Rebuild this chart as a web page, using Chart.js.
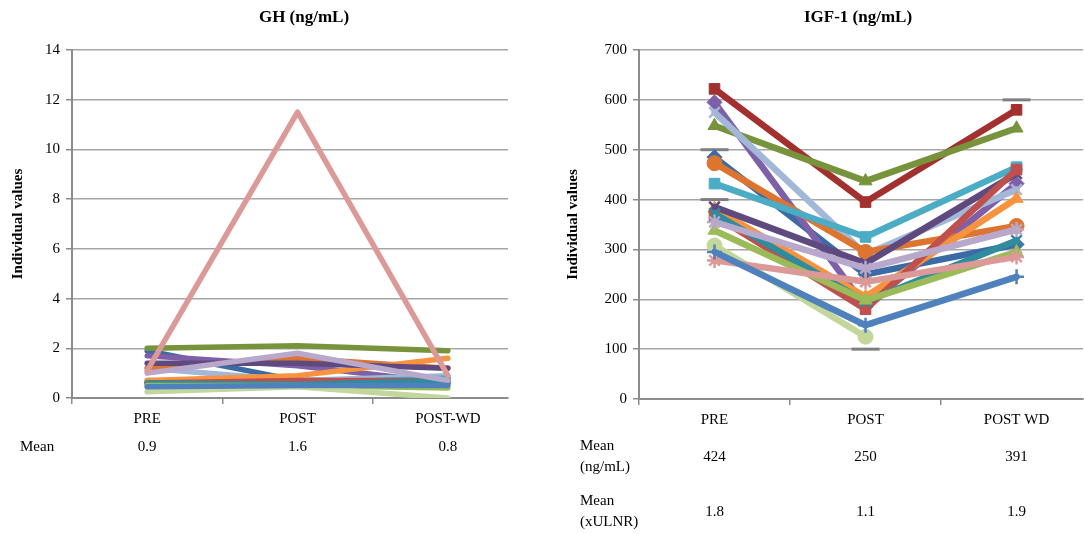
<!DOCTYPE html>
<html>
<head>
<meta charset="utf-8">
<script src="https://cdn.jsdelivr.net/npm/chart.js@4"></script>
<style>
  html, body { margin: 0; padding: 0; background: #fff; overflow: hidden; }
  #wrap { position: relative; width: 1084px; height: 534px; overflow: hidden; }
  canvas { position: absolute; top: 0; display: block; }
</style>
</head>
<body>
<div id="wrap">
  <canvas id="ghChart" width="540" height="534" style="left:0"></canvas>
  <canvas id="igfChart" width="544" height="534" style="left:540px"></canvas>
</div>
<script>
const ghCategories = ['PRE', 'POST', 'POST-WD'];
const igfCategories = ['PRE', 'POST', 'POST WD'];

// one colour / marker per patient, same order in both charts
const seriesColors = [
    '#3B6BA5', '#A2302E', '#77943D', '#7E5FA8', '#A3B8D9', '#DD7530', '#4BACC6', '#F7923E',
    '#5F4A80', '#C0504D', '#2E8C9E', '#9BBB59', '#B8A9CC', '#C3D69B', '#DB9997', '#4F81BD'
];
const seriesMarkers = [
    'rectRot', 'rect', 'triangle', 'rectRot', 'crossRot', 'circle', 'rect', 'triangle',
    'crossRot', 'rect', 'crossRot', 'triangle', 'star', 'circle', 'star', 'cross'
];

const ghValues = [
    [1.9, 0.7, 0.8], [0.6, 0.6, 0.6], [2.0, 2.1, 1.9], [1.7, 1.3, 0.6],
    [1.2, 0.7, 0.9], [1.2, 1.6, 1.2], [0.7, 0.6, 0.8], [0.7, 0.9, 1.6],
    [1.4, 1.4, 1.2], [0.6, 0.7, 0.7], [0.6, 0.55, 0.7], [0.5, 0.5, 0.4],
    [1.0, 1.8, 0.7], [0.25, 0.45, 0.0], [1.1, 11.5, 0.9], [0.45, 0.5, 0.5]
];
const igfValues = [
    [485, 250, 310], [622, 395, 580], [548, 437, 543], [595, 185, 432],
    [575, 290, 420], [473, 295, 347], [432, 325, 465], [382, 205, 402],
    [385, 272, 452], [368, 180, 460], [372, 195, 318], [338, 198, 295],
    [355, 262, 340], [308, 125, null], [278, 235, 285], [295, 148, 245]
];
// grey dash marks sitting on the IGF-1 gridlines
const igfDashX = [0, 0, 1, 2];
const igfDashY = [500, 400, 100, 600];

const ghMeans = ['0.9', '1.6', '0.8'];
const igfMeansNg = ['424', '250', '391'];
const igfMeansUlnr = ['1.8', '1.1', '1.9'];

const serif = 'Liberation Serif';

// text under the x axis (the little "Mean" table) and the chart title
const tablePlugin = {
    id: 'table',
    afterDraw(chart, args, opts) {
        const c = chart.ctx;
        const xs = chart.scales.x;
        const area = chart.chartArea;
        c.save();
        c.fillStyle = '#000';
        c.textBaseline = 'middle';
        c.font = 'bold 17px "' + serif + '"';
        c.textAlign = 'center';
        c.fillText(opts.title, (area.left + area.right) / 2 + opts.titleShift, 18);
        c.font = '15px "' + serif + '"';
        opts.rows.forEach(row => {
            c.textAlign = 'left';
            row.label.forEach((t, k) => {
                c.fillText(t, opts.labelX, row.y + (k - (row.label.length - 1) / 2) * 21);
            });
            c.textAlign = 'center';
            row.values.forEach((t, i) => {
                c.fillText(t, xs.getPixelForValue(i), row.y);
            });
        });
        c.restore();
    }
};

function makeLines(values, withMarkers, width) {
    return values.map((vals, i) => ({
        data: vals.map((v, j) => ({ x: j, y: v })),
        borderColor: seriesColors[i],
        backgroundColor: seriesColors[i],
        borderWidth: width,
        borderJoinStyle: 'round',
        borderCapStyle: 'round',
        pointStyle: seriesMarkers[i],
        pointRadius: withMarkers ? 7.5 : 0,
        pointBorderWidth: seriesMarkers[i].indexOf('cross') === 0 || seriesMarkers[i] === 'star' ? 2.5 : 1,
        pointBorderColor: seriesColors[i],
        pointBackgroundColor: seriesColors[i],
        order: values.length - i,
        showLine: true
    }));
}

function makeOptions(cfg) {
    return {
        responsive: false,
        animation: false,
        devicePixelRatio: 1,
        layout: { autoPadding: false, padding: { top: 50, right: cfg.padRight, left: 0, bottom: 0 } },
        plugins: {
            legend: { display: false },
            tooltip: { enabled: false },
            table: cfg.table
        },
        scales: {
            x: {
                type: 'linear',
                min: -0.5,
                max: cfg.xMax,
                afterBuildTicks: scale => {
                    const t = [];
                    cfg.categories.forEach((c, i) => { t.push({ value: i - 0.5 }); t.push({ value: i }); });
                    scale.ticks = t;
                },
                afterFit: scale => {
                    scale.height = cfg.xHeight;
                    scale.paddingLeft = 0;
                    scale.paddingRight = 0;
                },
                grid: {
                    drawOnChartArea: false,
                    tickLength: 6,
                    color: ctx => Number.isInteger(ctx.tick.value) ? 'rgba(0,0,0,0)' : '#8C8C8C',
                    lineWidth: 1.5
                },
                border: { color: '#8C8C8C', width: 2 },
                ticks: {
                    autoSkip: false,
                    maxRotation: 0,
                    padding: 6,
                    color: '#000',
                    font: { family: serif, size: 15 },
                    callback: v => Number.isInteger(v) ? cfg.categories[v] : ''
                }
            },
            y: {
                min: 0,
                max: cfg.yMax,
                afterFit: scale => {
                    scale.width = cfg.yWidth;
                    scale.paddingTop = 0;
                    scale.paddingBottom = 0;
                },
                ticks: {
                    stepSize: cfg.yStep,
                    padding: 6,
                    color: '#000',
                    font: { family: serif, size: 15 }
                },
                grid: { color: '#A6A6A6', lineWidth: 1.5, tickLength: 6, tickColor: '#8C8C8C' },
                border: { color: '#8C8C8C', width: 2 },
                title: {
                    display: true,
                    text: 'Individual values',
                    color: '#000',
                    font: { family: serif, size: 15, weight: 'bold' },
                    padding: { top: cfg.titlePad, bottom: 0 }
                }
            }
        }
    };
}

new Chart(document.getElementById('ghChart'), {
    type: 'scatter',
    data: { datasets: makeLines(ghValues, false, 5.5) },
    options: makeOptions({
        categories: ghCategories, xMax: 2.4, yMax: 14, yStep: 2,
        padRight: 32, yWidth: 72, xHeight: 136, titlePad: 9,
        table: {
            title: 'GH (ng/mL)', titleShift: 14, labelX: 20,
            rows: [{ label: ['Mean'], values: ghMeans, y: 447 }]
        }
    }),
    plugins: [tablePlugin]
});

const igfSets = makeLines(igfValues, true, 6.5);
igfSets.push({
    data: igfDashX.map((x, i) => ({ x: x, y: igfDashY[i] })),
    showLine: false,
    pointStyle: 'line',
    pointRadius: 14,
    pointBorderWidth: 3,
    pointBorderColor: '#7F7F7F',
    borderColor: '#7F7F7F',
    order: 100
});

new Chart(document.getElementById('igfChart'), {
    type: 'scatter',
    data: { datasets: igfSets },
    options: makeOptions({
        categories: igfCategories, xMax: 2.44, yMax: 700, yStep: 100,
        padRight: 1, yWidth: 99, xHeight: 135, titlePad: 24,
        table: {
            title: 'IGF-1 (ng/mL)', titleShift: -3, labelX: 40,
            rows: [
                { label: ['Mean', '(ng/mL)'], values: igfMeansNg, y: 457 },
                { label: ['Mean', '(xULNR)'], values: igfMeansUlnr, y: 512 }
            ]
        }
    }),
    plugins: [tablePlugin]
});
</script>
</body>
</html>
